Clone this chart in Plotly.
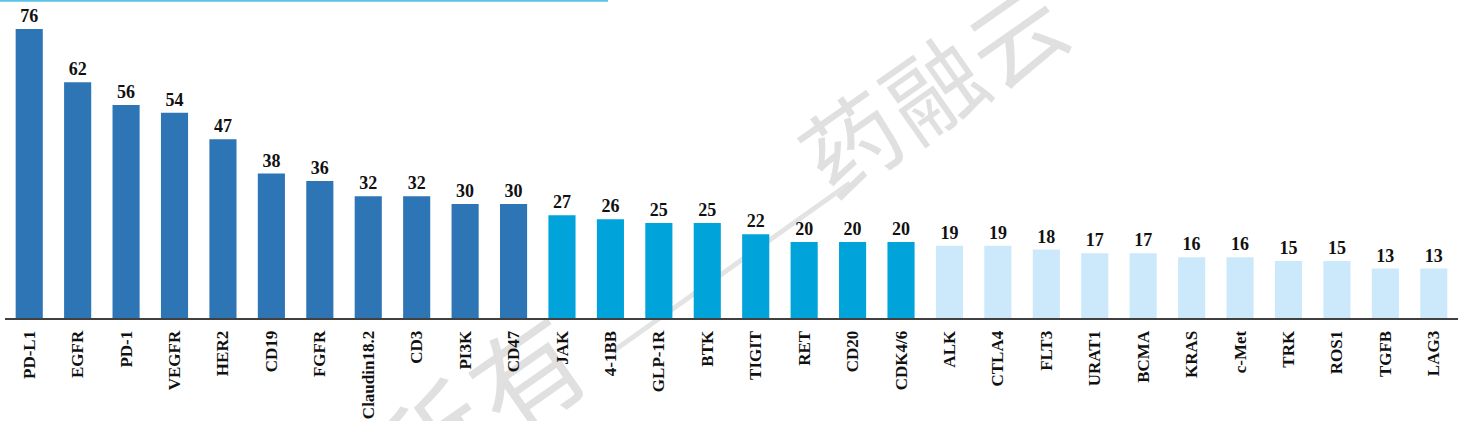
import plotly.graph_objects as go

categories = ["PD-L1", "EGFR", "PD-1", "VEGFR", "HER2", "CD19", "FGFR", "Claudin18.2", "CD3", "PI3K",
              "CD47", "JAK", "4-1BB", "GLP-1R", "BTK", "TIGIT", "RET", "CD20", "CDK4/6", "ALK",
              "CTLA4", "FLT3", "URAT1", "BCMA", "KRAS", "c-Met", "TRK", "ROS1", "TGFB", "LAG3"]
values = [76, 62, 56, 54, 47, 38, 36, 32, 32, 30,
          30, 27, 26, 25, 25, 22, 20, 20, 20, 19,
          19, 18, 17, 17, 16, 16, 15, 15, 13, 13]
groups = [0] * 11 + [1] * 8 + [2] * 11
group_colors = ["#2E75B6", "#00A3DA", "#CCE9FB"]

W, H = 1461, 421
L, R = 5, 1458      # plot area pixel x
T, B = 10, 318      # plot area pixel y


def px(x):
    return (x - L) / (R - L)


def py(y):
    return (B - y) / (B - T)


fig = go.Figure()
fig.add_trace(go.Bar(
    x=categories,
    y=values,
    marker=dict(color=[group_colors[g] for g in groups], line=dict(width=0)),
    text=[str(v) for v in values],
    textposition="outside",
    textfont=dict(family="Liberation Serif", size=18, color="#111111", weight="bold"),
    cliponaxis=False,
    hoverinfo="skip",
))

shapes = []
# top cyan rule
shapes.append(dict(type="line", xref="paper", yref="paper", x0=px(0), x1=px(608), y0=py(0.8), y1=py(0.8),
                   line=dict(color="#5BC4E6", width=2), layer="above"))
# watermark dash
shapes.append(dict(type="line", xref="paper", yref="paper", x0=px(612), y0=py(352), x1=px(850), y1=py(183),
                   line=dict(color="#E3E3E3", width=5), layer="below"))


def wm(text, cx, cy, size):
    return dict(type="rect", xref="paper", yref="paper",
                x0=px(cx - 5), x1=px(cx + 5), y0=py(cy + 5), y1=py(cy - 5),
                line=dict(width=0), fillcolor="rgba(0,0,0,0)", layer="below",
                label=dict(text=text, textangle=-35, textposition="middle center",
                           font=dict(family="Noto Sans CJK SC", size=size, color="#E0E0E0")))


shapes.append(wm("药", 858, 152, 96))
shapes.append(wm("融", 940, 97, 96))
shapes.append(wm("云", 1022, 45, 94))
shapes.append(wm("有", 535, 385, 110))
shapes.append(wm("所", 440, 452, 110))

fig.update_layout(
    width=W, height=H,
    margin=dict(l=L, r=W - R, t=T, b=H - B, autoexpand=False),
    paper_bgcolor="white", plot_bgcolor="rgba(0,0,0,0)",
    bargap=0.44,
    showlegend=False,
    shapes=shapes,
    xaxis=dict(
        type="category", range=[-0.5, 29.5],
        showline=True, linecolor="#404040", linewidth=2,
        ticks="", tickangle=-90,
        tickfont=dict(family="Liberation Serif", size=17, color="#111111", weight="bold"),
        ticklabelstandoff=4,
        showgrid=False, zeroline=False,
    ),
    yaxis=dict(range=[0, (B - T) / ((B - 29) / 76)], visible=False, showgrid=False, zeroline=False),
)

fig.write_html("out.html", config={"displayModeBar": False},
               post_script="document.body.style.margin='0px';document.body.style.overflow='hidden';")
